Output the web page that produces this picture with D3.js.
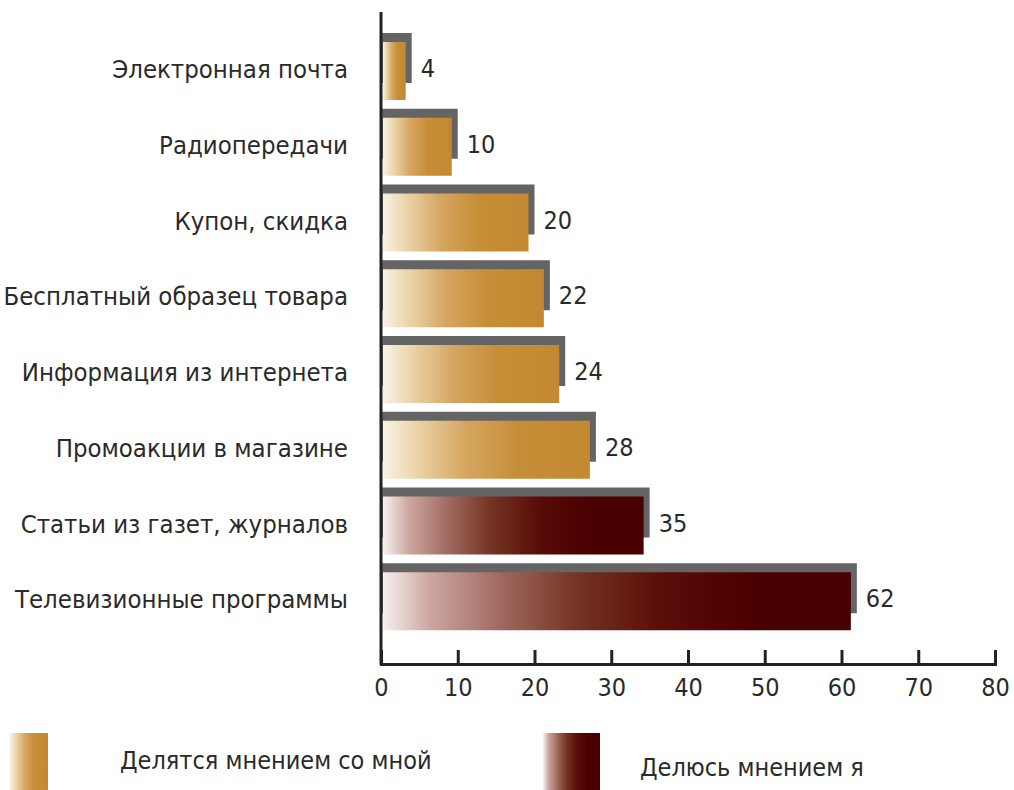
<!DOCTYPE html>
<html><head><meta charset="utf-8">
<script src="https://cdn.jsdelivr.net/npm/d3@7"></script>
<style>
html,body{margin:0;padding:0;background:#fff;}
svg{display:block;}
text{font-family:"DejaVu Sans Condensed","Liberation Sans Narrow","Liberation Sans",sans-serif;fill:#2a2a2a;}
</style></head>
<body>
<svg id="chart" width="1014" height="790"></svg>
<script>
const categories = ["Электронная почта","Радиопередачи","Купон, скидка","Бесплатный образец товара","Информация из интернета","Промоакции в магазине","Статьи из газет, журналов","Телевизионные программы"];
const values = [4,10,20,22,24,28,35,62];
const groups = ["share","share","share","share","share","share","mine","mine"];
const tickValues = [0,10,20,30,40,50,60,70,80];
const legendLabels = ["Делятся мнением со мной","Делюсь мнением я"];
const legendKeys = ["share","mine"];

const svg = d3.select("#chart");
const x = d3.scaleLinear().domain([0,80]).range([381,995]);
const y = d3.scaleBand().domain(categories).range([28,634]);

const defs = svg.append("defs");
const gGold = defs.append("linearGradient").attr("id","grad-share").attr("x1","0").attr("x2","1").attr("y1","0").attr("y2","0");
[[0,"#f8f2e6"],[0.15,"#ecd6ac"],[0.4,"#d5a560"],[0.65,"#c78e38"],[1,"#c38832"]].forEach(s=>gGold.append("stop").attr("offset",s[0]).attr("stop-color",s[1]));
const gDark = defs.append("linearGradient").attr("id","grad-mine").attr("x1","0").attr("x2","1").attr("y1","0").attr("y2","0");
[[0,"#f6f0f0"],[0.1,"#cda6a0"],[0.25,"#a06a60"],[0.42,"#733222"],[0.6,"#5a0c08"],[0.8,"#4a0000"],[1,"#480000"]].forEach(s=>gDark.append("stop").attr("offset",s[0]).attr("stop-color",s[1]));

const rows = svg.append("g").selectAll("g").data(categories).join("g");
// value bar (grey)
rows.append("rect")
  .attr("x", x(0))
  .attr("y", d => y(d)+5)
  .attr("width", (d,i) => x(values[i]) - x(0))
  .attr("height", 50)
  .attr("fill", "#646464");
// gradient bar
rows.append("rect")
  .attr("x", x(0)+2)
  .attr("y", d => y(d)+14)
  .attr("width", (d,i) => x(values[i]) - x(0) - 8)
  .attr("height", 58)
  .attr("fill", (d,i) => `url(#grad-${groups[i]})`);
// value labels
rows.append("text")
  .attr("x", (d,i) => x(values[i]) + 9)
  .attr("y", d => y(d)+49)
  .attr("font-size", 25)
  .text((d,i) => values[i]);
// category labels
rows.append("text")
  .attr("x", 348)
  .attr("y", d => y(d)+50)
  .attr("text-anchor","end")
  .attr("font-size", 25.5)
  .text(d => d);

// axes
svg.append("line").attr("x1",x(0)).attr("x2",x(0)).attr("y1",12).attr("y2",665)
  .attr("stroke","#222").attr("stroke-width",3);
const ax = svg.append("g").attr("transform","translate(0,664)")
  .call(d3.axisBottom(x).tickValues(tickValues).tickSize(-14).tickPadding(14));
ax.select(".domain").attr("stroke","#222").attr("stroke-width",3);
ax.selectAll(".tick line").attr("stroke","#222").attr("stroke-width",3);
ax.selectAll(".tick text").attr("font-size",25).attr("fill","#2a2a2a")
  .style("font-family",'"DejaVu Sans Condensed","Liberation Sans Narrow",sans-serif');

// legend
const lx = [10, 543], tx = [120, 640];
const leg = svg.append("g").selectAll("g").data(legendKeys).join("g");
leg.append("rect").attr("x",(d,i)=>lx[i]).attr("y",733).attr("width",(d,i)=> i===0?38:57).attr("height",60)
  .attr("fill", d => `url(#grad-${d})`);
leg.append("text").attr("x",(d,i)=>tx[i]).attr("y",(d,i)=> i===0?769:776).attr("font-size",25)
  .text((d,i)=>legendLabels[i]);
</script>
</body></html>
